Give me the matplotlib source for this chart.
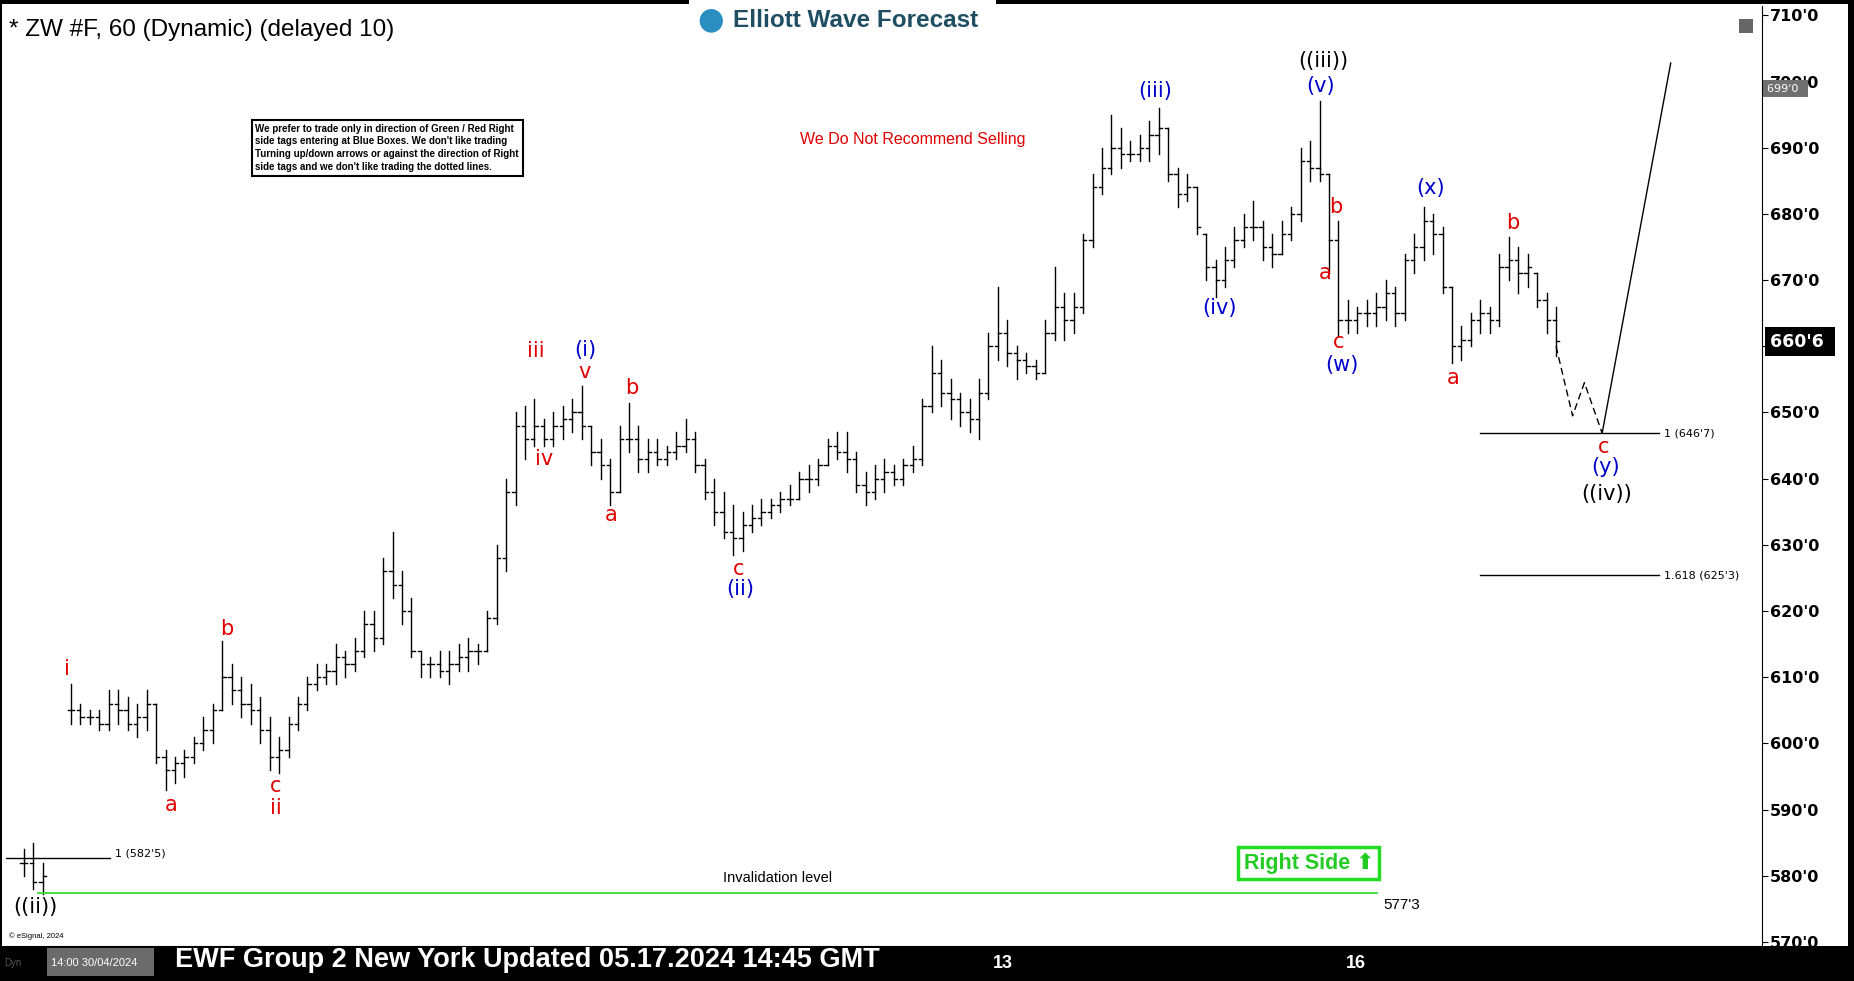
import numpy as np
import matplotlib
matplotlib.use("Agg")
import matplotlib.pyplot as plt
from matplotlib.patches import Rectangle

nan = np.nan
highs = [584,585,582,nan,nan,609,606,605,605,608,608,607,606,608,606,599,598,599,601,604,606,615.5,612,610,609,607,604,601,604,607,
 610,612,612,615,614,616,620,620,628,632,626,622,614,613,614,614,615,616,615,620,630,640,650,651,652,649,650,651,652,654,
 648,646,643,648,651.5,648,646,646,645,647,649,647,643,640,638,636,635,636,637,637,638,639,641,642,643,646,647,647,644,641,
 642,643,642,643,645,652,660,658,655,653,652,655,662,669,664,660,659,658,664,672,668,668,677,686,690,695,693,691,692,694,
 696,693,687,686,684,677,673,675,678,680,682,679,677,679,681,690,691,697,686,679,667,666,667,668,670,669,674,677,681,680,
 678,669,663,665,667,666,674,676.5,675,674,671,668,666]
lows = [580,578,577.3,nan,nan,603,603,603,602,602,603,602,601,602,597,593,594,595,597,599,600,605,606,604,603,600,596,595.5,598,602,
 605,608,609,609,610,611,613,614,615,622,618,613,610,610,610,609,611,611,612,614,618,626,636,643,645,645,645,646,647,646,
 642,640,636,638,644,641,641,642,642,643,644,641,637,633,631,628.5,629,632,633,634,635,636,637,638,639,642,643,641,638,636,
 637,638,639,639,641,642,650,651,649,648,647,646,652,658,657,655,656,655,656,661,661,662,665,675,683,686,687,688,688,688,
 689,685,681,682,677,670,667.5,669,672,675,676,673,672,674,676,679,685,685,671,661.5,662,662,663,663,664,663,664,671,673,674,
 668,657.5,658,660,662,662,663,670,668,669,666,662,658.5]
closes = [582,579,580,nan,nan,605,604,604,603,606,605,603,604,606,598,596,597,598,600,602,605,610,608,606,605,602,598,599,603,606,
 609,610,611,613,612,614,618,616,626,624,620,614,612,612,611,612,613,614,614,619,628,638,648,646,648,646,648,649,650,648,
 644,642,638,646,646,643,644,643,644,645,646,642,638,635,632,631,633,634,635,636,637,637,640,640,642,645,644,643,639,638,
 640,641,640,642,643,651,656,653,652,650,649,653,660,662,659,658,657,656,662,666,664,666,676,684,687,690,689,689,690,692,
 693,686,683,684,678,672,670,673,676,678,678,675,674,677,680,688,687,686,676,664,664,665,665,666,668,665,673,675,679,677,
 669,660,661,664,665,664,672,673,671,672,667,664,660.75]

proj_prices = [660.0, 649.5, 654.5, 646.875, 702.8]
fib_levels = [646.875, 625.375]
fib_labels = ["1 (646'7)", "1.618 (625'3)"]
low_fib = 582.625
invalidation = 577.375
yticks = list(range(570, 711, 10))

W, H = 1854, 981
fig = plt.figure(figsize=(W/100, H/100), dpi=100, facecolor="black")
plt.rcParams['font.family'] = ['Liberation Sans', 'DejaVu Sans']
DW, DH = 1568, 830
def fx(d): return d/DW
def fy(d): return 1 - d/DH

fig.patches.append(Rectangle((fx(2), fy(800)), fx(1563)-fx(2), fy(3)-fy(800),
                             transform=fig.transFigure, facecolor="white", edgecolor="none", zorder=-10))

ax = fig.add_axes([fx(5), fy(800), fx(1490)-fx(5), fy(5)-fy(800)])
ax.set_facecolor("white")
def X(d): return (d-20)/8
def P(y): return 710 - (y-13)/5.6

n = len(highs)
xs = np.arange(n)
prev = [nan] + closes[:-1]
for i in range(n):
    if np.isnan(highs[i]):
        continue
    ax.plot([xs[i], xs[i]], [lows[i], highs[i]], color="black", lw=1.0)
    o = prev[i] if not np.isnan(prev[i]) else closes[i]
    o = min(max(o, lows[i]), highs[i])
    ax.plot([xs[i]-0.35, xs[i]], [o, o], color="black", lw=1.0)
    ax.plot([xs[i], xs[i]+0.35], [closes[i], closes[i]], color="black", lw=1.0)

px = [xs[-1], X(1330), X(1340), X(1355), X(1413)]
ax.plot(px[:4], proj_prices[:4], color="black", lw=1, ls=(0, (5, 3)))
ax.plot(px[3:], proj_prices[3:], color="black", lw=1)

for lv, lb in zip(fib_levels, fib_labels):
    ax.plot([X(1252), X(1403)], [lv, lv], color="black", lw=1)
    ax.text(X(1407), lv, lb, fontsize=8, va="center", ha="left", family="DejaVu Sans")
ax.plot([X(0), X(93)], [low_fib, low_fib], color="black", lw=1)
ax.text(X(97), low_fib+0.8, "1 (582'5)", fontsize=8, va="center", family="DejaVu Sans")
ax.plot([X(32), X(1165)], [invalidation, invalidation], color="#33dd33", lw=1.3)
ax.text(X(658), P(743), "Invalidation level", fontsize=10.5, ha="center", va="center")
ax.text(X(1170), P(766), "577'3", fontsize=11, ha="left", va="center")

R, B, K = "#e00000", "#0000cc", "black"
labels = [
    (57,566,"i",R),(145,681,"a",R),(192,532,"b",R),(233,665,"c",R),(233,684,"ii",R),
    (453,297,"iii",R),(460,388,"iv",R),(494,315,"v",R),(495,296,"(i)",B),
    (517,436,"a",R),(534,328,"b",R),(625,481,"c",R),(626,498,"(ii)",B),
    (977,77,"(iii)",B),(1119,52,"((iii))",K),(1117,73,"(v)",B),
    (1130,175,"b",R),(1121,231,"a",R),(1132,289,"c",R),(1135,309,"(w)",B),
    (1031,261,"(iv)",B),(1210,159,"(x)",B),(1229,320,"a",R),(1279,189,"b",R),
    (1356,378,"c",R),(1358,395,"(y)",B),(1359,418,"((iv))",K),(30,767,"((ii))",K)]
for dx, dy, t, c in labels:
    ax.text(X(dx), P(dy), t, color=c, fontsize=15, ha="center", va="center", family="DejaVu Sans")

ax.set_xlim(X(5), X(1490))
ax.set_ylim(P(800), P(5))
for s in ["top", "left"]:
    ax.spines[s].set_visible(False)
ax.yaxis.tick_right()
ax.set_yticks(yticks)
ax.set_yticklabels([f"{v}'0" for v in yticks], fontsize=11.5, fontweight="bold", family="DejaVu Sans")
ax.tick_params(axis="y", length=4, pad=2)
ax.set_xticks([X(57), X(352), X(555), X(848), X(1147)])
ax.set_xticklabels([])
ax.tick_params(axis="x", length=4, direction="out")

fig.text(fx(1494), fy(75), "699'0  ", fontsize=8, color="white", va="center", zorder=10,
         bbox=dict(boxstyle="square,pad=0.3", fc="#707070", ec="none"), family="DejaVu Sans")
fig.text(fx(1497), fy(289), "660'6 ", fontsize=12.5, color="white", va="center", fontweight="bold", zorder=10,
         bbox=dict(boxstyle="square,pad=0.3", fc="black", ec="none"), family="DejaVu Sans")

fig.text(fx(8), fy(25), "* ZW #F, 60 (Dynamic) (delayed 10)", fontsize=17.5, va="center")
fig.patches.append(Rectangle((fx(583), fy(30)), fx(842)-fx(583), fy(0)-fy(30),
                             transform=fig.transFigure, facecolor="white", edgecolor="none", zorder=1))
fig.text(fx(601), fy(17), "●", fontsize=22, color="#2a8fc0", ha="center", va="center", family="DejaVu Sans")
fig.text(fx(620), fy(17), "Elliott Wave Forecast", fontsize=17.5, color="#1f4e63", fontweight="bold", va="center")

box = ("We prefer to trade only in direction of Green / Red Right\nside tags entering at Blue Boxes. We don't like trading\n"
       "Turning up/down arrows or against the direction of Right\nside tags and we don't like trading the dotted lines.")
fig.text(fx(216), fy(125), box, fontsize=7, fontweight="bold", va="center", linespacing=1.35,
         bbox=dict(boxstyle="square,pad=0.4", fc="white", ec="black", lw=1.5))
fig.text(fx(772), fy(118), "We Do Not Recommend Selling", fontsize=11.5, color=R, ha="center", va="center")
fig.text(fx(1107), fy(730), "Right Side ⬆", fontsize=15.5, color="#22cc22", fontweight="bold", ha="center", va="center",
         bbox=dict(boxstyle="square,pad=0.25", fc="white", ec="#22dd22", lw=2.5))
fig.text(fx(8), fy(792), "© eSignal, 2024", fontsize=5.5, va="center")
fig.patches.append(Rectangle((fx(1471), fy(28)), fx(12), fy(16)-fy(28),
                             transform=fig.transFigure, facecolor="#666666", edgecolor="none"))

fig.text(fx(4), fy(815), "Dyn", fontsize=7, color="#555555", va="center")
fig.patches.append(Rectangle((fx(40), fy(826)), fx(130)-fx(40), fy(802)-fy(826),
                             transform=fig.transFigure, facecolor="#6b6b6b", edgecolor="none"))
fig.text(fx(43), fy(815), "14:00 30/04/2024", fontsize=8, color="white", va="center")
fig.text(fx(148), fy(812), "EWF Group 2 New York Updated 05.17.2024 14:45 GMT", fontsize=19.5, color="white",
         fontweight="bold", va="center")
fig.text(fx(848), fy(815), "13", fontsize=13, color="white", fontweight="bold", ha="center", va="center")
fig.text(fx(1147), fy(815), "16", fontsize=13, color="white", fontweight="bold", ha="center", va="center")

fig.savefig("out.png", dpi=100, facecolor="black")
